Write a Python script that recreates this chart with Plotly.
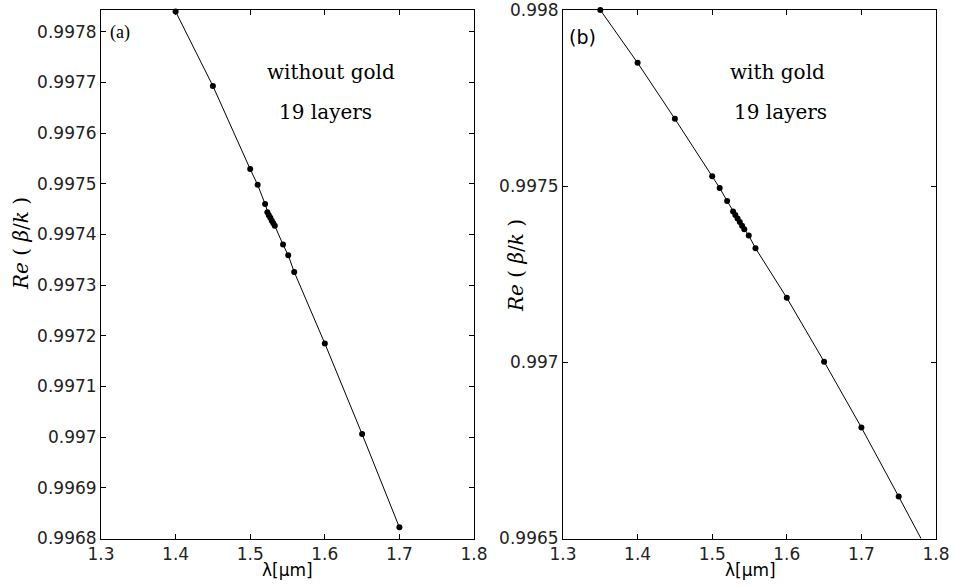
import plotly.graph_objects as go

# ---- data ----
# panel (a): without gold, 19 layers
lam_a = [1.40, 1.45, 1.50, 1.51, 1.52, 1.523, 1.525, 1.527, 1.529, 1.531, 1.533,
         1.544, 1.551, 1.559, 1.60, 1.65, 1.70]
neff_a = [0.99784, 0.997693, 0.997529, 0.997498, 0.997460, 0.997444, 0.997438,
          0.997433, 0.997427, 0.997422, 0.997417, 0.997380, 0.997359, 0.997326,
          0.997185, 0.997006, 0.996822]

# panel (b): with gold, 19 layers
lam_b = [1.35, 1.40, 1.45, 1.50, 1.51, 1.52, 1.528, 1.531, 1.534, 1.537, 1.540,
         1.543, 1.549, 1.558, 1.60, 1.65, 1.70, 1.75]
neff_b = [0.99800, 0.99785, 0.997691, 0.997528, 0.997495, 0.997458, 0.997428,
          0.997418, 0.997408, 0.997398, 0.997388, 0.997378, 0.997360, 0.997324,
          0.997183, 0.997002, 0.996815, 0.996619]
# fitted curve in (b) continues past the last computed point
curve_b_lam = lam_b + [1.80]
curve_b_neff = neff_b + [0.99642]

x_ticks = [1.3, 1.4, 1.5, 1.6, 1.7, 1.8]
x_ticktext = ["1.3", "1.4", "1.5", "1.6", "1.7", "1.8"]
ya_ticks = [0.9968, 0.9969, 0.9970, 0.9971, 0.9972, 0.9973, 0.9974, 0.9975,
            0.9976, 0.9977, 0.9978]
ya_ticktext = ["0.9968", "0.9969", "0.997", "0.9971", "0.9972", "0.9973",
               "0.9974", "0.9975", "0.9976", "0.9977", "0.9978"]
yb_ticks = [0.9965, 0.9970, 0.9975, 0.9980]
yb_ticktext = ["0.9965", "0.997", "0.9975", "0.998"]

W, H = 955, 587
TICKFONT = dict(family="DejaVu Sans", size=17, color="#222222")
SERIF = "DejaVu Serif"


def px_x(p):
    return p / W


def px_y(p):
    return 1 - p / H


fig = go.Figure()

# panel a
fig.add_trace(go.Scatter(x=lam_a, y=neff_a, mode="lines",
                         line=dict(color="black", width=1),
                         xaxis="x", yaxis="y", showlegend=False, hoverinfo="skip"))
fig.add_trace(go.Scatter(x=lam_a, y=neff_a, mode="markers",
                         marker=dict(color="black", size=6),
                         cliponaxis=False,
                         xaxis="x", yaxis="y", showlegend=False))
# panel b
fig.add_trace(go.Scatter(x=curve_b_lam, y=curve_b_neff, mode="lines",
                         line=dict(color="black", width=1),
                         xaxis="x2", yaxis="y2", showlegend=False, hoverinfo="skip"))
fig.add_trace(go.Scatter(x=lam_b, y=neff_b, mode="markers",
                         marker=dict(color="black", size=6),
                         cliponaxis=False,
                         xaxis="x2", yaxis="y2", showlegend=False))

axis_common = dict(showline=True, linecolor="black", linewidth=1, mirror="ticks",
                   ticks="inside", ticklen=5, tickwidth=1, tickcolor="black",
                   showgrid=False, zeroline=False, tickfont=TICKFONT,
                   automargin=False, ticklabeloverflow="allow")

ydom = [px_y(538.5), px_y(10)]
fig.update_layout(
    width=W, height=H,
    margin=dict(l=0, r=0, t=0, b=0, autoexpand=False),
    paper_bgcolor="white", plot_bgcolor="white",
    xaxis=dict(domain=[px_x(101), px_x(474)], range=[1.2999999, 1.8000001],
               tickvals=x_ticks, ticktext=x_ticktext, anchor="y", **axis_common),
    yaxis=dict(domain=ydom, range=[0.99679999, 0.997843],
               tickvals=ya_ticks, ticktext=ya_ticktext, anchor="x", **axis_common),
    xaxis2=dict(domain=[px_x(563), px_x(936)], range=[1.2999999, 1.8000001],
                tickvals=x_ticks, ticktext=x_ticktext, anchor="y2", **axis_common),
    yaxis2=dict(domain=ydom, range=[0.99649999, 0.99800001],
                tickvals=yb_ticks, ticktext=yb_ticktext, anchor="x2", **axis_common),
)

ann = []


def add_text(x, y, text, family, size, angle=0):
    ann.append(dict(x=px_x(x), y=px_y(y), xref="paper", yref="paper",
                    text=text, showarrow=False, textangle=angle,
                    xanchor="center", yanchor="middle",
                    font=dict(family=family, size=size, color="black")))


add_text(120, 32, "(a)", "Liberation Serif", 18)
add_text(582, 37, "(b)", "DejaVu Sans", 19)
add_text(331, 72, "without gold", SERIF, 20)
add_text(325, 112, "19 layers", SERIF, 20)
add_text(777, 72, "with gold", SERIF, 20)
add_text(780, 112, "19 layers", SERIF, 20)
add_text(21, 244, "<i>Re</i> ( <i>β</i>/<i>k</i> )", SERIF, 20, -90)
add_text(516, 266, "<i>Re</i> ( <i>β</i>/<i>k</i> )", SERIF, 20, -90)
add_text(287, 570, "λ[μm]", "DejaVu Sans", 17)
add_text(750, 570, "λ[μm]", "DejaVu Sans", 17)

fig.update_layout(annotations=ann)
fig.write_html("out.html")
